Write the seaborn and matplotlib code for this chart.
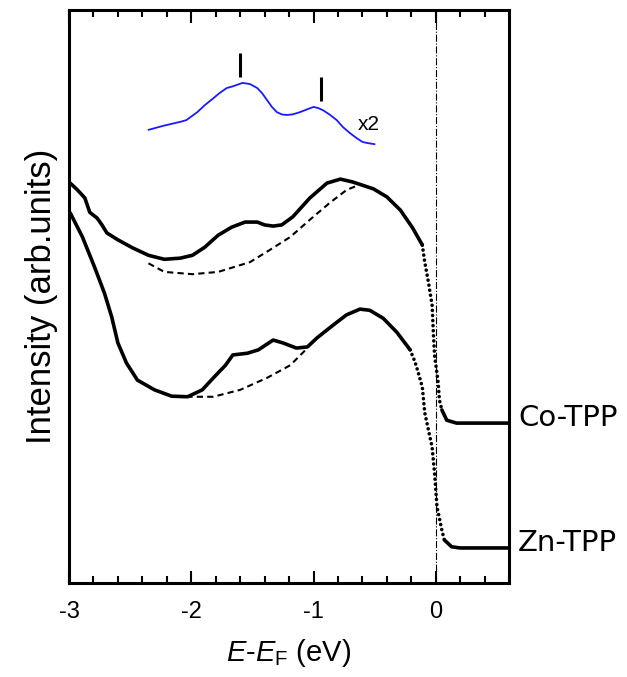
import numpy as np
import pandas as pd
import matplotlib
matplotlib.use('Agg')
import matplotlib.pyplot as plt
from matplotlib.ticker import MultipleLocator
import seaborn as sns

# Co-TPP spectrum (upper)
co_e = [-2.99, -2.93, -2.87, -2.83, -2.77, -2.73, -2.69, -2.60, -2.48, -2.35,
        -2.22, -2.09, -1.99, -1.89, -1.78, -1.67, -1.56, -1.46, -1.40, -1.33,
        -1.26, -1.17, -1.03, -0.89, -0.78, -0.68, -0.51, -0.40, -0.29, -0.19,
        -0.11, -0.09, -0.06, -0.03, -0.02, -0.01, 0.02, 0.03, 0.05, 0.09,
        0.17, 0.60]
co_i = [69.8, 68.6, 67.2, 64.7, 63.7, 62.5, 61.1, 59.9, 58.5, 57.2,
        56.5, 56.7, 57.2, 58.6, 60.7, 62.1, 63.0, 63.0, 62.5, 62.3,
        62.5, 63.9, 67.2, 69.8, 70.5, 70.0, 68.8, 67.4, 65.1, 62.0,
        59.0, 56.0, 52.5, 48.5, 43.8, 39.8, 34.9, 31.9, 30.2, 28.4,
        27.9, 27.9]

# Zn-TPP spectrum (lower)
zn_e = [-2.99, -2.89, -2.79, -2.71, -2.65, -2.60, -2.53, -2.44, -2.30, -2.16,
        -2.03, -1.91, -1.81, -1.72, -1.66, -1.54, -1.45, -1.33, -1.25, -1.14,
        -1.05, -0.97, -0.84, -0.73, -0.62, -0.54, -0.43, -0.32, -0.21, -0.17,
        -0.15, -0.11, -0.09, -0.03, -0.01, 0.01, 0.05, 0.07, 0.13, 0.20,
        0.60]
zn_i = [64.6, 60.4, 55.1, 50.6, 46.4, 41.9, 38.4, 35.4, 33.7, 32.6,
        32.5, 33.7, 36.0, 38.0, 39.8, 40.1, 40.7, 42.4, 41.9, 41.0,
        41.2, 42.8, 45.0, 46.8, 47.8, 47.6, 46.2, 43.8, 40.7, 38.6,
        37.2, 34.2, 29.7, 23.7, 19.2, 13.3, 9.2, 7.5, 6.3, 6.1,
        6.1]

# background (dashed) curves
co_bg_e = [-2.35, -2.22, -1.99, -1.78, -1.52, -1.36, -1.19, -1.03, -0.87, -0.73, -0.65]
co_bg_i = [55.8, 54.3, 53.9, 54.3, 56.0, 58.1, 60.4, 63.4, 66.3, 68.6, 69.3]
zn_bg_e = [-2.04, -1.82, -1.60, -1.38, -1.19, -1.05]
zn_bg_i = [32.5, 32.5, 33.7, 35.8, 38.0, 41.0]

# difference spectrum x2 (blue)
diff_e = [-2.35, -2.23, -2.17, -2.09, -2.04, -1.95, -1.89, -1.82, -1.77, -1.71,
          -1.66, -1.58, -1.52, -1.46, -1.42, -1.38, -1.34, -1.30, -1.26, -1.22,
          -1.17, -1.11, -1.05, -1.00, -0.96, -0.92, -0.87, -0.81, -0.76, -0.70,
          -0.65, -0.60, -0.56, -0.50]
diff_i = [79.1, 79.8, 80.1, 80.5, 80.8, 82.2, 83.4, 84.6, 85.5, 86.4,
          86.7, 87.3, 87.1, 86.4, 85.5, 84.3, 83.1, 82.2, 81.8, 81.7,
          81.8, 82.2, 82.7, 83.1, 82.9, 82.5, 81.8, 80.8, 79.6, 78.5,
          77.7, 77.0, 76.8, 76.6]

# peak markers
peak_e = [-1.60, -0.94]
peak_lo = [88.3, 84.1]
peak_hi = [92.5, 88.3]

sns.set_style('ticks')
plt.rcParams['font.family'] = ['Liberation Sans', 'DejaVu Sans']
plt.rcParams['axes.unicode_minus'] = False
plt.rcParams['mathtext.fontset'] = 'custom'
plt.rcParams['mathtext.rm'] = 'Liberation Sans'
plt.rcParams['mathtext.it'] = 'Liberation Sans:italic'

fig = plt.figure(figsize=(6.27, 6.77), dpi=100)
ax = fig.add_axes([0.110, 0.139, 0.702, 0.846])


def spectrum(e, i, edge):
    # solid where the data are dense, dotted on the steep Fermi edge
    df = pd.DataFrame({'e': e, 'i': i})
    lo, hi = edge
    parts = [df[df.e <= lo], df[(df.e >= lo) & (df.e <= hi)], df[df.e >= hi]]
    for k, part in enumerate(parts):
        ls = (0, (0.01, 1.4)) if k == 1 else '-'
        sns.lineplot(data=part, x='e', y='i', sort=False, estimator=None, color='black',
                     lw=2.6, linestyle=ls, dash_capstyle='round',
                     solid_joinstyle='round', ax=ax)


spectrum(co_e, co_i, (-0.11, 0.05))
spectrum(zn_e, zn_i, (-0.21, 0.07))
sns.lineplot(x=co_bg_e, y=co_bg_i, sort=False, estimator=None, color='black', lw=1.5,
             linestyle=(0, (3, 2)), ax=ax)
sns.lineplot(x=zn_bg_e, y=zn_bg_i, sort=False, estimator=None, color='black', lw=1.5,
             linestyle=(0, (3, 2)), ax=ax)
sns.lineplot(x=diff_e, y=diff_i, sort=False, estimator=None, color='#1a1aff', lw=1.3,
             solid_joinstyle='round', ax=ax)
ax.vlines(peak_e, peak_lo, peak_hi, color='black', lw=2.2)
ax.axvline(0, color='black', lw=0.8, linestyle='-.')

ax.text(-0.55, 80.0, 'x2', fontsize=15, ha='center', va='center', color='black')
ax.text(1.02, 27.4, 'Co-TPP', transform=ax.get_yaxis_transform(), fontsize=21,
        family='DejaVu Sans', va='baseline', ha='left', color='black', clip_on=False)
ax.text(1.02, 5.6, 'Zn-TPP', transform=ax.get_yaxis_transform(), fontsize=21,
        family='DejaVu Sans', va='baseline', ha='left', color='black', clip_on=False)

ax.set_xlim(-3, 0.6)
ax.set_ylim(0, 100)
ax.xaxis.set_major_locator(MultipleLocator(1))
ax.xaxis.set_minor_locator(MultipleLocator(0.2))
ax.set_yticks([])
ax.tick_params(axis='x', which='major', direction='in', length=9, width=1.5,
               top=True, labelsize=17, pad=13, color='black', labelcolor='black')
ax.tick_params(axis='x', which='minor', direction='in', length=5, width=1.5, top=True,
               color='black')
for s in ax.spines.values():
    s.set_linewidth(2.2)
    s.set_color('black')

ax.set_xlabel(r'$\mathit{E}$-$\mathit{E}_{\mathrm{F}}$ (eV)', fontsize=21, labelpad=10,
              color='black')
ax.set_ylabel('Intensity (arb.units)', fontsize=25, labelpad=8, color='black')

fig.savefig('out.png', dpi=100)
